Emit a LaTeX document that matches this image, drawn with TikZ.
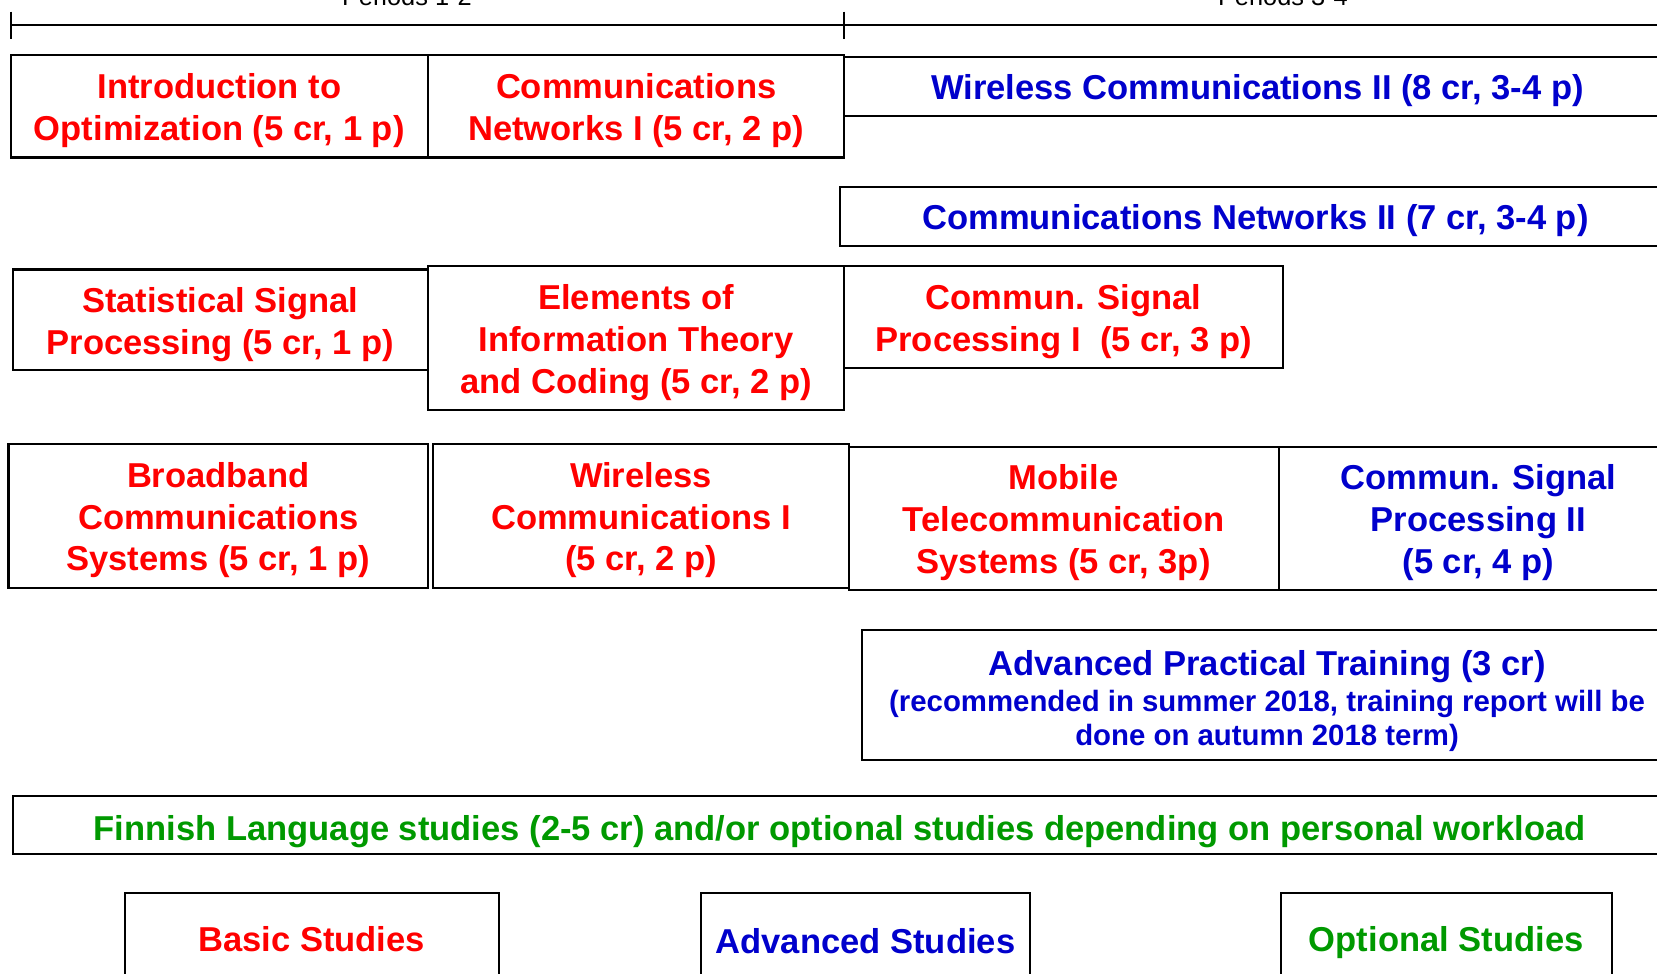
\documentclass[tikz,border=0pt]{standalone}
\usepackage{fontspec}
\setmainfont{Liberation Sans}
\usepackage{tikz}

\definecolor{basicred}{RGB}{255,0,0}
\definecolor{advblue}{RGB}{0,0,204}
\definecolor{optgreen}{RGB}{0,153,0}

% strut that lowers the text a little in its box
\newcommand{\topgap}[1][32pt]{\rule{0pt}{#1}}

\tikzset{
  box/.style={draw=black, line width=2pt, align=center, inner sep=0pt,
    font=\bfseries\fontsize{32.7}{39.5}\selectfont},
  basic/.style={box, text=basicred},
  adv/.style={box, text=advblue},
  opt/.style={box, text=optgreen},
  period/.style={anchor=base, font=\fontsize{24}{28}\selectfont},
}

\begin{document}
\begin{tikzpicture}[x=1pt,y=-1pt]
\useasboundingbox (0,0) rectangle (1568,921);

% time line
\coordinate (t0) at (10,24);
\coordinate (t1) at (799,24);
\coordinate (t2) at (1600,24);
\draw[line width=2pt] (t0) -- (t2);
\draw[line width=2pt] (t0) ++(0,-13) -- ++(0,26); % start
\draw[line width=2pt] (t1) ++(0,-13) -- ++(0,26); % middle
\node[period] (p12) at (385,5) {Periods 1-2};
\node[period] (p34) at (1214,5) {Periods 3-4};

% periods 1-2 and 3-4, first rows
\node[basic, minimum width=395, minimum height=97] (optim) at (207.5,100.5) {\topgap Introduction to\\Optimization (5 cr, 1 p)};
\node[basic, minimum width=394, minimum height=97] (cn1) at (602,100.5) {\topgap Communications\\Networks I (5 cr, 2 p)};
\node[adv, minimum width=782, minimum height=56] (wc2) at (1190,82) {\topgap Wireless Communications II (8 cr, 3-4 p)};
\node[adv, minimum width=786, minimum height=56] (cn2) at (1188,205) {\topgap Communications Networks II (7 cr, 3-4 p)};

% signal processing and coding
\node[basic, minimum width=393, minimum height=95] (ssp) at (208.5,302.5) {\topgap[33pt]Statistical Signal\\Processing (5 cr, 1 p)};
\node[basic, minimum width=394, minimum height=136] (eit) at (602,320) {\topgap Elements of\\Information Theory\\and Coding (5 cr, 2 p)};
\node[basic, minimum width=415, minimum height=96] (csp1) at (1006.5,300) {\topgap Commun. Signal\\Processing I\ \ (5 cr, 3 p)};

% systems
\node[basic, minimum width=397, minimum height=136] (bcs) at (206.5,488) {\topgap Broadband\\Communications\\Systems (5 cr, 1 p)};
\node[basic, minimum width=393, minimum height=136] (wc1) at (606.5,488) {\topgap Wireless\\Communications I\\(5 cr, 2 p)};
\node[basic, minimum width=407, minimum height=135] (mts) at (1006.5,490.5) {\topgap Mobile\\Telecommunication\\Systems (5 cr, 3p)};
\node[adv, minimum width=378, minimum height=135] (csp2) at (1399,490.5) {\topgap Commun. Signal\\Processing II\\(5 cr, 4 p)};

% training and optional studies
\node[adv, minimum width=766, minimum height=123] (apt) at (1199,657.5) {\topgap[35pt]Advanced Practical Training (3 cr)\\[-5pt]
  \fontsize{27.8}{32}\selectfont(recommended in summer 2018, training report will be\\[-8pt]
  \fontsize{27.8}{32}\selectfont done on autumn 2018 term)};
\node[opt, minimum width=1565, minimum height=55] (fin) at (794.5,780.5) {\topgap[36pt]Finnish Language studies (2-5 cr) and/or optional studies depending on personal workload};

% legend
\node[basic, minimum width=354, minimum height=88] (lbasic) at (295,889) {Basic Studies};
\node[adv, minimum width=312, minimum height=92] (ladv) at (819,891) {Advanced Studies};
\node[opt, minimum width=313, minimum height=88] (lopt) at (1368.5,889) {\topgap[30pt]Optional Studies};

\end{tikzpicture}
\end{document}
